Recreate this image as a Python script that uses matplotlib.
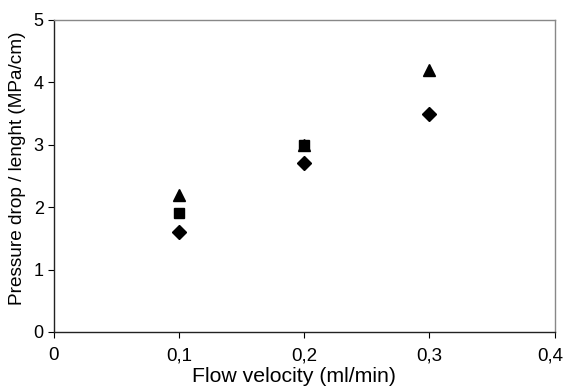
import matplotlib
matplotlib.use("Agg")
import matplotlib.pyplot as plt
import matplotlib.transforms as mtransforms
from matplotlib.ticker import FuncFormatter

plt.rcParams['font.family'] = ['Liberation Sans', 'DejaVu Sans']

x_tri = [0.1, 0.2, 0.3]
y_tri = [2.2, 3.0, 4.2]
x_sq = [0.1, 0.2]
y_sq = [1.9, 3.0]
x_dia = [0.1, 0.2, 0.3]
y_dia = [1.6, 2.7, 3.5]

fig = plt.figure(figsize=(5.65, 3.91), dpi=100)
ax = fig.add_axes([0.0947, 0.151, 0.887, 0.798])

ax.plot(x_tri, y_tri, linestyle='none', marker='^', color='black', markersize=8)
ax.plot(x_sq, y_sq, linestyle='none', marker='s', color='black', markersize=7)
ax.plot(x_dia, y_dia, linestyle='none', marker='D', color='black', markersize=7)

ax.set_xlim(0, 0.4)
ax.set_ylim(0, 5)
ax.set_xticks([0, 0.1, 0.2, 0.3, 0.4])
ax.set_yticks([0, 1, 2, 3, 4, 5])
ax.xaxis.set_major_formatter(FuncFormatter(lambda v, p: ('%g' % round(v, 2)).replace('.', ',')))
ax.tick_params(axis='both', length=4, width=0.8, direction='out', colors='black')
ax.tick_params(axis='x', pad=7, labelsize=13.5)
ax.tick_params(axis='y', pad=3, labelsize=13)

for side in ['left', 'bottom']:
    ax.spines[side].set_color('#222222')
    ax.spines[side].set_linewidth(1.0)
for side in ['top', 'right']:
    ax.spines[side].set_color('#888888')
    ax.spines[side].set_linewidth(1.0)

ax.set_xlabel('Flow velocity (ml/min)', fontsize=15.3)
ax.xaxis.set_label_coords(0.48, -0.112)
ax.set_ylabel('Pressure drop / lenght (MPa/cm)', fontsize=13.7)
ax.yaxis.set_label_coords(-0.055, 0.526)

fig.canvas.draw()
last = ax.get_xticklabels()[-1]
last.set_transform(last.get_transform() + mtransforms.ScaledTranslation(-4 / 100, 0, fig.dpi_scale_trans))

fig.savefig('out.png', dpi=100)
